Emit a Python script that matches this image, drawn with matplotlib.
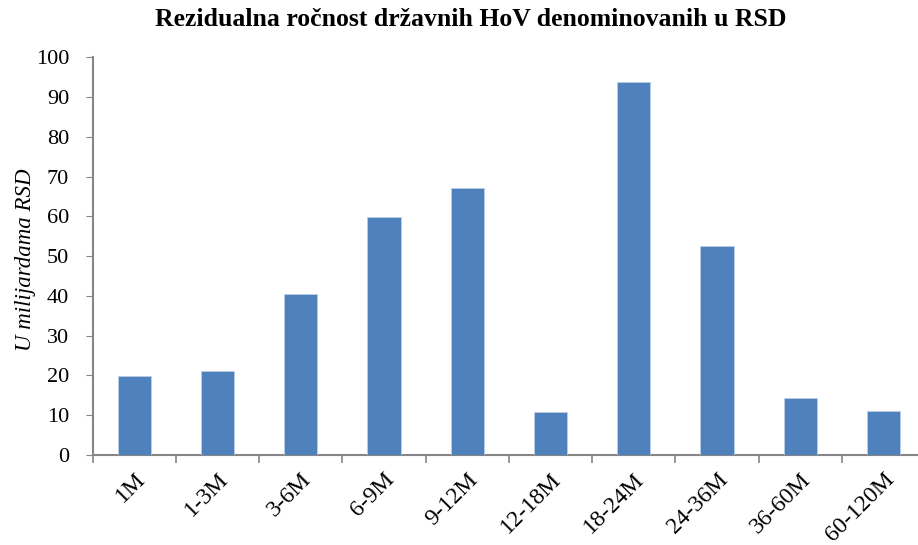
import matplotlib
matplotlib.use("Agg")
import matplotlib.pyplot as plt
import numpy as np

categories = ["1M", "1-3M", "3-6M", "6-9M", "9-12M", "12-18M", "18-24M", "24-36M", "36-60M", "60-120M"]
values = [19.9, 21.2, 40.5, 59.8, 67.1, 10.7, 93.8, 52.5, 14.4, 11.1]
yticks = list(range(0, 101, 10))

plt.rcParams['font.family'] = ['Liberation Serif', 'DejaVu Serif']

W, H = 918, 545
fig = plt.figure(figsize=(W/100, H/100), dpi=100)
left, right = 92.7, 925.0
top, bottom = 57.3, 455.0
ax = fig.add_axes([left/W, 1 - bottom/H, (right-left)/W, (bottom-top)/H])

x = np.arange(len(categories))
ax.bar(x, values, width=0.4, color="#4F81BD", edgecolor="#B9CDE5", linewidth=0.6, zorder=3)
ax.set_xlim(-0.5, len(categories) - 0.5)
ax.set_ylim(0, 100)
ax.set_yticks(yticks)
ax.tick_params(axis='y', labelsize=16, length=5, color="#868686", pad=12)

ax.set_xticks(x)
ax.set_xticklabels(categories, rotation=45, ha='right', rotation_mode='anchor', fontsize=17)
ax.tick_params(axis='x', which='major', length=0, pad=10)
ax.set_xticks(np.arange(-0.5, len(categories) + 0.5, 1), minor=True)
ax.tick_params(axis='x', which='minor', length=6, color="#868686", width=1.2)

for s in ['top', 'right']:
    ax.spines[s].set_visible(False)
for s in ['left', 'bottom']:
    ax.spines[s].set_color("#868686")
    ax.spines[s].set_linewidth(1.5)

fig.text(26/W, 1 - 260/H, "U milijardama RSD", rotation=90, ha='center', va='center',
         fontsize=16.5, style='italic')
fig.text(471/W, 1 - 20/H, "Rezidualna ročnost državnih HoV denominovanih u RSD",
         ha='center', va='center', fontsize=18.5, fontweight='bold')

fig.savefig("out.png", dpi=100)
